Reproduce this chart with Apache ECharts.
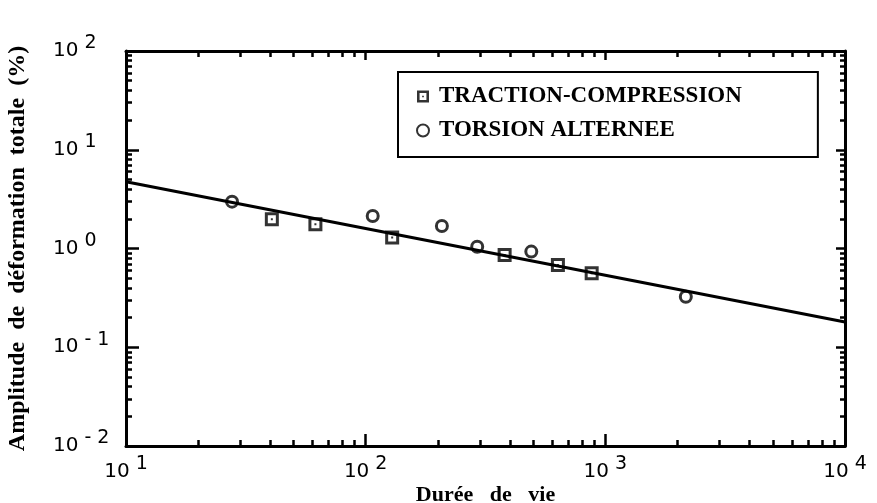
<!DOCTYPE html>
<html>
<head>
<meta charset="utf-8">
<script src="https://cdn.jsdelivr.net/npm/echarts@6/dist/echarts.min.js"></script>
<style>
  html, body { margin: 0; padding: 0; background: #fff; }
  #chart { width: 877px; height: 503px; }
</style>
</head>
<body>
<div id="chart"></div>
<script>
// Fatigue life: total strain amplitude (%) against number of cycles
const tractionCycles = [40.6, 61.7, 129, 380, 634, 877];
const tractionStrain = [1.98, 1.76, 1.29, 0.86, 0.68, 0.56];
const torsionCycles = [27.7, 107, 208, 292, 491, 2167];
const torsionStrain = [2.98, 2.13, 1.69, 1.04, 0.93, 0.325];
// fitted power law, end points on the axis limits
const fitCycles = [10, 10000];
const fitStrain = [4.75, 0.18];

// decades and their exponent labels
const xDecades = [10, 100, 1000, 10000];
const xExponents = ['1', '2', '3', '4'];
const yDecades = [0.01, 0.1, 1, 10, 100];
const yExponents = ['- 2', '- 1', '0', '1', '2'];

const seriesNames = ['TRACTION-COMPRESSION', 'TORSION ALTERNEE'];

function pairs(xs, ys) { return xs.map((x, i) => [x, ys[i]]); }

function minorTicks(decades) {
  const out = [];
  decades.slice(0, -1).forEach(d => {
    for (let k = 2; k <= 9; k++) out.push(+(k * d).toPrecision(6));
  });
  return out;
}

const labelRich = {
  b: { fontFamily: 'DejaVu Sans', fontSize: 20, color: '#000' },
  e: { fontFamily: 'DejaVu Sans', fontSize: 19, color: '#000', padding: [0, 0, 15, 6] }
};

function powerLabel(decades, exps) {
  return v => {
    let best = 0;
    decades.forEach((d, i) => {
      if (Math.abs(Math.log10(d) - Math.log10(v)) < Math.abs(Math.log10(decades[best]) - Math.log10(v))) best = i;
    });
    return '{b|10}{e|' + exps[best] + '}';
  };
}

function logAxis(opts) {
  return Object.assign({
    type: 'log',
    logBase: 10,
    splitLine: { show: false },
    axisLine: { show: false, onZero: false, lineStyle: { color: '#000', width: 3 } },
    axisLabel: { show: false },
    axisPointer: { show: false }
  }, opts);
}

function tick(values, len) {
  return { show: true, inside: true, length: len, customValues: values,
           lineStyle: { color: '#000', width: 2.5 } };
}

const xMin = xDecades[0], xMax = xDecades[xDecades.length - 1];
const yMin = yDecades[0], yMax = yDecades[yDecades.length - 1];
const xMinor = minorTicks(xDecades);
const yMinor = minorTicks(yDecades);

const squareMark = 'path://M0,0H14V14H0Z M3,3V11H11V3Z M6,6H8V8H6Z';

const option = {
  animation: false,
  backgroundColor: '#fff',
  grid: { left: 126, top: 51, right: 32, bottom: 57, containLabel: false, outerBoundsMode: 'none' },
  legend: {
    orient: 'vertical',
    left: 398, top: 72,
    data: seriesNames,
    selectedMode: false,
    borderColor: '#000', borderWidth: 2,
    padding: [13, 76, 15, 18],
    itemWidth: 22, itemHeight: 12, itemGap: 11,
    textStyle: { fontFamily: 'Liberation Serif', fontWeight: 'bold', fontSize: 23, lineHeight: 22, color: '#000' }
  },
  xAxis: [
    logAxis({
      position: 'bottom', min: xMin, max: xMax,
      axisLine: { show: true, onZero: false, lineStyle: { color: '#000', width: 3 } },
      axisTick: tick(xDecades, 12),
      axisLabel: { show: true, customValues: xDecades, margin: 9, formatter: powerLabel(xDecades, xExponents), rich: labelRich },
      name: 'Durée   de   vie', nameLocation: 'middle', nameGap: 38, nameMoveOverlap: false,
      nameTextStyle: { fontFamily: 'Liberation Serif', fontWeight: 'bold', fontSize: 22, color: '#000' }
    }),
    logAxis({ position: 'bottom', min: xMin, max: xMax, axisTick: tick(xMinor, 6) }),
    logAxis({
      position: 'top', min: xMin, max: xMax,
      axisLine: { show: true, onZero: false, lineStyle: { color: '#000', width: 3 } },
      axisTick: tick(xDecades, 9)
    }),
    logAxis({ position: 'top', min: xMin, max: xMax, axisTick: tick(xMinor, 6) })
  ],
  yAxis: [
    logAxis({
      position: 'left', min: yMin, max: yMax,
      axisLine: { show: true, onZero: false, lineStyle: { color: '#000', width: 3 } },
      axisTick: tick(yDecades, 13),
      axisLabel: { show: true, customValues: yDecades, align: 'left', margin: 73, formatter: powerLabel(yDecades, yExponents), rich: labelRich },
      name: 'Amplitude  de  déformation  totale  (%)', nameLocation: 'middle', nameGap: 96, nameMoveOverlap: false,
      nameTextStyle: { fontFamily: 'Liberation Serif', fontWeight: 'bold', fontSize: 24, color: '#000' }
    }),
    logAxis({ position: 'left', min: yMin, max: yMax, axisTick: tick(yMinor, 6) }),
    logAxis({
      position: 'right', min: yMin, max: yMax,
      axisLine: { show: true, onZero: false, lineStyle: { color: '#000', width: 3 } },
      axisTick: tick(yDecades, 9)
    }),
    logAxis({ position: 'right', min: yMin, max: yMax, axisTick: tick(yMinor, 5) })
  ],
  series: [
    {
      type: 'line', data: pairs(fitCycles, fitStrain),
      showSymbol: false, silent: true, z: 2,
      lineStyle: { color: '#000', width: 3 }
    },
    {
      name: seriesNames[0], type: 'scatter', z: 3,
      data: pairs(tractionCycles, tractionStrain),
      symbol: squareMark, symbolSize: 14,
      itemStyle: { color: '#000' }
    },
    {
      name: seriesNames[1], type: 'scatter', z: 3,
      data: pairs(torsionCycles, torsionStrain),
      symbol: 'circle', symbolSize: 11,
      itemStyle: { color: 'rgba(0,0,0,0)', borderColor: '#000', borderWidth: 3 }
    }
  ]
};

const chart = echarts.init(document.getElementById('chart'), null, { renderer: 'canvas' });
chart.setOption(option);
</script>
</body>
</html>
